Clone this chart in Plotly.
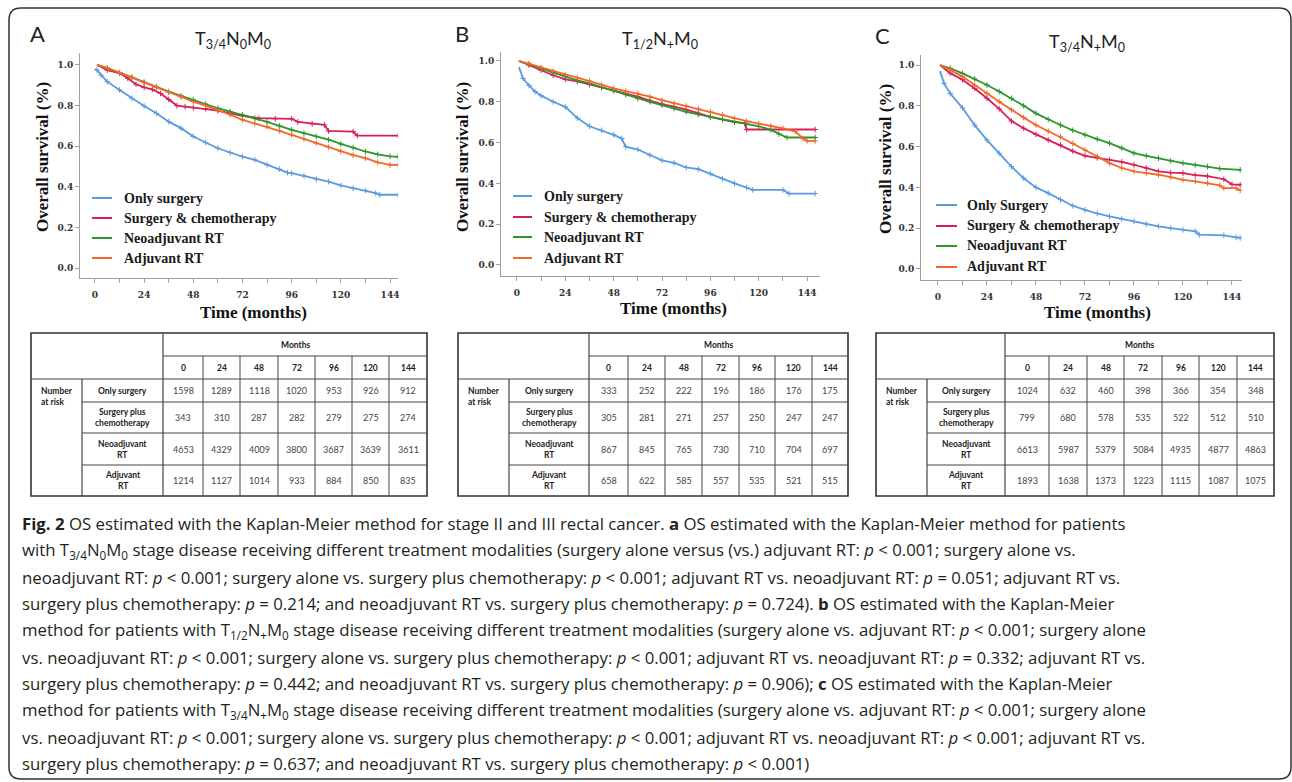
import plotly.graph_objects as go

W, H = 1292, 782

def X(px):
    return px / W

def Y(py):
    return 1 - py / H

# ---------------- data ----------------
series_names = ["Only surgery", "Surgery &amp; chemotherapy", "Neoadjuvant RT", "Adjuvant RT"]
series_names_c = ["Only Surgery", "Surgery &amp; chemotherapy", "Neoadjuvant RT", "Adjuvant RT"]
colors = ["#5a9be0", "#d81f55", "#2b962b", "#f2682a"]

# Panel A  (T3/4 N0 M0)
A_only_t = [0, 1, 3, 6, 12, 18, 24, 30, 36, 42, 48, 54, 60, 66, 72, 78, 84, 90, 94, 96, 102, 108, 114, 120, 126, 132, 137, 139, 148]
A_only_s = [0.98, 0.975, 0.95, 0.918, 0.877, 0.836, 0.798, 0.762, 0.721, 0.689, 0.648, 0.618, 0.59, 0.569, 0.549, 0.533, 0.508, 0.487, 0.47, 0.467, 0.454, 0.438, 0.426, 0.407, 0.393, 0.382, 0.369, 0.361, 0.361]
A_chemo_t = [1, 6, 12, 16, 20, 24, 28, 32, 36, 40, 44, 48, 54, 60, 66, 72, 80, 88, 96, 99, 106, 112, 114, 126, 128, 148]
A_chemo_s = [1.0, 0.975, 0.96, 0.935, 0.905, 0.89, 0.88, 0.86, 0.83, 0.80, 0.795, 0.79, 0.785, 0.775, 0.762, 0.75, 0.738, 0.735, 0.735, 0.72, 0.71, 0.705, 0.675, 0.672, 0.652, 0.652]
A_neo_t = [1, 6, 12, 18, 24, 30, 36, 42, 48, 54, 60, 66, 72, 78, 84, 90, 96, 102, 108, 114, 120, 126, 132, 138, 144, 148]
A_neo_s = [1.0, 0.985, 0.962, 0.94, 0.915, 0.892, 0.869, 0.848, 0.828, 0.808, 0.787, 0.77, 0.754, 0.737, 0.72, 0.70, 0.68, 0.664, 0.648, 0.632, 0.611, 0.593, 0.574, 0.56, 0.55, 0.548]
A_adj_t = [1, 6, 12, 18, 24, 30, 36, 42, 48, 54, 60, 66, 72, 78, 84, 90, 96, 102, 108, 114, 120, 126, 132, 138, 144, 148]
A_adj_s = [1.0, 0.985, 0.962, 0.938, 0.913, 0.89, 0.866, 0.843, 0.82, 0.80, 0.779, 0.755, 0.73, 0.712, 0.697, 0.676, 0.656, 0.636, 0.615, 0.595, 0.574, 0.556, 0.541, 0.52, 0.508, 0.508]

# Panel B  (T1/2 N+ M0)
B_only_t = [1, 3, 6, 9, 12, 18, 24, 30, 36, 42, 48, 52, 54, 60, 66, 72, 78, 84, 90, 96, 102, 108, 114, 117, 132, 135, 148]
B_only_s = [0.97, 0.915, 0.88, 0.85, 0.83, 0.80, 0.775, 0.72, 0.68, 0.66, 0.638, 0.62, 0.58, 0.566, 0.538, 0.513, 0.50, 0.478, 0.47, 0.448, 0.423, 0.40, 0.38, 0.368, 0.368, 0.35, 0.35]
B_chemo_t = [1, 6, 12, 18, 24, 30, 36, 42, 48, 54, 60, 66, 72, 78, 84, 90, 96, 102, 108, 113, 114, 148]
B_chemo_s = [1.0, 0.98, 0.955, 0.93, 0.91, 0.90, 0.885, 0.87, 0.857, 0.84, 0.825, 0.806, 0.789, 0.776, 0.762, 0.744, 0.726, 0.713, 0.70, 0.695, 0.664, 0.664]
B_neo_t = [1, 6, 12, 18, 24, 30, 36, 42, 48, 54, 60, 66, 72, 78, 84, 90, 96, 102, 108, 114, 120, 126, 130, 134, 148]
B_neo_s = [1.0, 0.985, 0.964, 0.943, 0.923, 0.905, 0.89, 0.872, 0.854, 0.835, 0.816, 0.80, 0.784, 0.767, 0.751, 0.738, 0.726, 0.714, 0.702, 0.692, 0.68, 0.662, 0.642, 0.625, 0.625]
B_adj_t = [1, 6, 12, 18, 24, 30, 36, 42, 48, 54, 60, 66, 72, 78, 84, 90, 96, 102, 108, 114, 120, 126, 132, 138, 142, 144, 148]
B_adj_s = [1.0, 0.985, 0.967, 0.95, 0.934, 0.918, 0.902, 0.884, 0.866, 0.852, 0.841, 0.825, 0.808, 0.793, 0.779, 0.765, 0.751, 0.735, 0.718, 0.705, 0.693, 0.682, 0.67, 0.655, 0.62, 0.608, 0.608]

# Panel C  (T3/4 N+ M0)
C_only_t = [1, 3, 6, 12, 18, 24, 30, 36, 42, 48, 54, 60, 66, 72, 78, 84, 90, 96, 102, 108, 114, 120, 126, 128, 140, 146, 148]
C_only_s = [0.97, 0.91, 0.86, 0.79, 0.705, 0.632, 0.567, 0.502, 0.445, 0.40, 0.372, 0.34, 0.31, 0.29, 0.272, 0.258, 0.245, 0.233, 0.22, 0.209, 0.2, 0.192, 0.185, 0.168, 0.165, 0.155, 0.152]
C_chemo_t = [1, 6, 12, 18, 24, 30, 36, 42, 48, 54, 60, 66, 72, 78, 84, 90, 96, 102, 108, 114, 120, 126, 132, 140, 144, 148]
C_chemo_s = [1.0, 0.96, 0.928, 0.885, 0.837, 0.785, 0.725, 0.69, 0.66, 0.632, 0.608, 0.578, 0.555, 0.545, 0.535, 0.525, 0.511, 0.495, 0.478, 0.472, 0.47, 0.46, 0.455, 0.44, 0.415, 0.413]
C_neo_t = [1, 6, 12, 18, 24, 30, 36, 42, 48, 54, 60, 66, 72, 78, 84, 90, 96, 102, 108, 114, 120, 126, 132, 138, 148]
C_neo_s = [1.0, 0.984, 0.959, 0.932, 0.902, 0.87, 0.837, 0.80, 0.763, 0.733, 0.706, 0.68, 0.657, 0.637, 0.617, 0.593, 0.568, 0.555, 0.543, 0.53, 0.519, 0.51, 0.502, 0.492, 0.486]
C_adj_t = [1, 6, 12, 18, 24, 30, 36, 42, 48, 54, 60, 66, 72, 78, 84, 90, 96, 102, 108, 114, 120, 126, 132, 138, 140, 146, 148]
C_adj_s = [1.0, 0.976, 0.943, 0.90, 0.861, 0.82, 0.78, 0.742, 0.706, 0.676, 0.648, 0.615, 0.583, 0.551, 0.519, 0.495, 0.478, 0.47, 0.462, 0.45, 0.437, 0.43, 0.421, 0.41, 0.396, 0.396, 0.385]

# tick values
x_tick_vals = [0, 24, 48, 72, 96, 120, 144]
x_tick_text = ["0", "24", "48", "72", "96", "120", "144"]
x_minor_vals = [12, 36, 60, 84, 108, 132]
y_tick_vals = [0.0, 0.2, 0.4, 0.6, 0.8, 1.0]
y_tick_text = ["0.0", "0.2", "0.4", "0.6", "0.8", "1.0"]

# number-at-risk tables
months = ["0", "24", "48", "72", "96", "120", "144"]
row_labels = ["Only surgery", "Surgery plus<br>chemotherapy", "Neoadjuvant<br>RT", "Adjuvant<br>RT"]
risk_A = [[1598, 1289, 1118, 1020, 953, 926, 912],
          [343, 310, 287, 282, 279, 275, 274],
          [4653, 4329, 4009, 3800, 3687, 3639, 3611],
          [1214, 1127, 1014, 933, 884, 850, 835]]
risk_B = [[333, 252, 222, 196, 186, 176, 175],
          [305, 281, 271, 257, 250, 247, 247],
          [867, 845, 765, 730, 710, 704, 697],
          [658, 622, 585, 557, 535, 521, 515]]
risk_C = [[1024, 632, 460, 398, 366, 354, 348],
          [799, 680, 578, 535, 522, 512, 510],
          [6613, 5987, 5379, 5084, 4935, 4877, 4863],
          [1893, 1638, 1373, 1223, 1115, 1087, 1075]]

panel_titles = ["T<sub>3/4</sub>N<sub>0</sub>M<sub>0</sub>",
                "T<sub>1/2</sub>N<sub>+</sub>M<sub>0</sub>",
                "T<sub>3/4</sub>N<sub>+</sub>M<sub>0</sub>"]
panel_letters = ["A", "B", "C"]

caption_lines = [
    "<b>Fig. 2</b> OS estimated with the Kaplan-Meier method for stage II and III rectal cancer. <b>a</b> OS estimated with the Kaplan-Meier method for patients",
    "with T<sub>3/4</sub>N<sub>0</sub>M<sub>0</sub> stage disease receiving different treatment modalities (surgery alone versus (vs.) adjuvant RT: <i>p</i> &lt; 0.001; surgery alone vs.",
    "neoadjuvant RT: <i>p</i> &lt; 0.001; surgery alone vs. surgery plus chemotherapy: <i>p</i> &lt; 0.001; adjuvant RT vs. neoadjuvant RT: <i>p</i> = 0.051; adjuvant RT vs.",
    "surgery plus chemotherapy: <i>p</i> = 0.214; and neoadjuvant RT vs. surgery plus chemotherapy: <i>p</i> = 0.724). <b>b</b> OS estimated with the Kaplan-Meier",
    "method for patients with T<sub>1/2</sub>N<sub>+</sub>M<sub>0</sub> stage disease receiving different treatment modalities (surgery alone vs. adjuvant RT: <i>p</i> &lt; 0.001; surgery alone",
    "vs. neoadjuvant RT: <i>p</i> &lt; 0.001; surgery alone vs. surgery plus chemotherapy: <i>p</i> &lt; 0.001; adjuvant RT vs. neoadjuvant RT: <i>p</i> = 0.332; adjuvant RT vs.",
    "surgery plus chemotherapy: <i>p</i> = 0.442; and neoadjuvant RT vs. surgery plus chemotherapy: <i>p</i> = 0.906); <b>c</b> OS estimated with the Kaplan-Meier",
    "method for patients with T<sub>3/4</sub>N<sub>+</sub>M<sub>0</sub> stage disease receiving different treatment modalities (surgery alone vs. adjuvant RT: <i>p</i> &lt; 0.001; surgery alone",
    "vs. neoadjuvant RT: <i>p</i> &lt; 0.001; surgery alone vs. surgery plus chemotherapy: <i>p</i> &lt; 0.001; adjuvant RT vs. neoadjuvant RT: <i>p</i> &lt; 0.001; adjuvant RT vs.",
    "surgery plus chemotherapy: <i>p</i> = 0.637; and neoadjuvant RT vs. surgery plus chemotherapy: <i>p</i> &lt; 0.001)",
]

panels = [
    [(A_only_t, A_only_s), (A_chemo_t, A_chemo_s), (A_neo_t, A_neo_s), (A_adj_t, A_adj_s)],
    [(B_only_t, B_only_s), (B_chemo_t, B_chemo_s), (B_neo_t, B_neo_s), (B_adj_t, B_adj_s)],
    [(C_only_t, C_only_s), (C_chemo_t, C_chemo_s), (C_neo_t, C_neo_s), (C_adj_t, C_adj_s)],
]

# ---------------- layout geometry (pixels) ----------------
geo = [
    dict(x0=80, x1=398, y0=53, y1=278, xr=[-7.3, 147.9], yr=[-0.049, 1.059],
         title=(233, 40), letter=(37, 33), ytitle=(42, 157), xtitle=(253, 312),
         leg=(92, 112, 122, [198, 218, 238, 258])),
    dict(x0=501, x1=820, y0=52, y1=276, xr=[-7.9, 150.4], yr=[-0.054, 1.044],
         title=(660, 39), letter=(462, 33), ytitle=(462, 157), xtitle=(673, 308),
         leg=(513, 532, 542, [196, 217, 237, 258])),
    dict(x0=921, x1=1242, y0=55, y1=280, xr=[-8.3, 148.9], yr=[-0.054, 1.049],
         title=(1087, 42), letter=(882, 35), ytitle=(885, 159), xtitle=(1097, 313),
         leg=(936, 957, 965, [205, 226, 246, 267])),
]

fig = go.Figure()
annotations = []
shapes = []

serif = "Liberation Serif"
sans = "Lato"


def note(px, py, text, font, xanchor="center", yanchor="middle", **kw):
    annotations.append(dict(x=X(px), y=Y(py), xref="paper", yref="paper", text=text,
                            showarrow=False, xanchor=xanchor, yanchor=yanchor, font=font, **kw))


for p in range(3):
    g = geo[p]
    xa = "x" if p == 0 else f"x{p+1}"
    ya = "y" if p == 0 else f"y{p+1}"
    names = series_names_c if p == 2 else series_names
    for k, (t, s) in enumerate(panels[p]):
        fig.add_trace(go.Scatter(x=t, y=s, mode="lines", xaxis=xa, yaxis=ya,
                                 line=dict(color=colors[k], width=1.8),
                                 showlegend=False, hoverinfo="skip"))
        fig.add_trace(go.Scatter(x=t[1:], y=s[1:], mode="markers", xaxis=xa, yaxis=ya,
                                 marker=dict(symbol="cross-thin", size=4,
                                             line=dict(color=colors[k], width=1)),
                                 showlegend=False, hoverinfo="skip"))
    axis_common = dict(showline=True, linecolor="#a0a0a0", linewidth=1, ticks="outside",
                       ticklen=4, tickcolor="#a0a0a0", showgrid=False, zeroline=False,
                       tickfont=dict(family="DejaVu Serif", size=9, color="#333", weight="bold"))
    xkey = "xaxis" if p == 0 else f"xaxis{p+1}"
    ykey = "yaxis" if p == 0 else f"yaxis{p+1}"
    fig.update_layout(**{
        xkey: dict(domain=[X(g["x0"]), X(g["x1"])], range=g["xr"], anchor=ya,
                   tickvals=x_tick_vals, ticktext=x_tick_text, ticklabelstandoff=4,
                   minor=dict(tickvals=x_minor_vals, ticks="outside", ticklen=4,
                              tickcolor="#a0a0a0", showgrid=False),
                   **axis_common),
        ykey: dict(domain=[Y(g["y1"]), Y(g["y0"])], range=g["yr"], anchor=xa,
                   tickvals=y_tick_vals, ticktext=y_tick_text, **axis_common),
    })
    note(*g["title"], panel_titles[p], dict(family=sans, size=18, color="#222"))
    note(*g["letter"], panel_letters[p], dict(family=sans, size=22, color="#222"))
    note(*g["ytitle"], "<b>Overall survival (%)</b>", dict(family=serif, size=17, color="#111"),
         textangle=-90)
    note(*g["xtitle"], "<b>Time (months)</b>", dict(family=serif, size=17, color="#111"))
    lx0, lx1, tx, rows = g["leg"]
    for k in range(4):
        shapes.append(dict(type="line", xref="paper", yref="paper",
                           x0=X(lx0), x1=X(lx1), y0=Y(rows[k]), y1=Y(rows[k]),
                           line=dict(color=colors[k], width=2)))
        note(tx, rows[k], "<b>" + names[k] + "</b>",
             dict(family=serif, size=14, color="#1a1a1a"), xanchor="left")

# ---------------- tables ----------------
table_rows = [333, 356, 379, 402, 433, 465, 496]
tables = [
    dict(left=31, c1=82, cols=[163, 203, 240, 278, 315, 352, 389, 427], data=risk_A),
    dict(left=458, c1=509, cols=[589, 628, 665, 702, 739, 775, 812, 848], data=risk_B),
    dict(left=876, c1=927, cols=[1005, 1049, 1087, 1124, 1162, 1199, 1237, 1274], data=risk_C),
]
lc = "#444"
for tb in tables:
    L, c1, cols = tb["left"], tb["c1"], tb["cols"]
    R = cols[-1]
    top, r1, r2 = table_rows[0], table_rows[1], table_rows[2]
    bot = table_rows[-1]
    shapes.append(dict(type="rect", xref="paper", yref="paper", x0=X(L), x1=X(R), y0=Y(bot), y1=Y(top),
                       line=dict(color="#333", width=1.6)))

    def hline(xa_, xb_, yy, w=1):
        shapes.append(dict(type="line", xref="paper", yref="paper", x0=X(xa_), x1=X(xb_),
                           y0=Y(yy), y1=Y(yy), line=dict(color=lc, width=w)))

    def vline(xx, ya_, yb_, w=1):
        shapes.append(dict(type="line", xref="paper", yref="paper", x0=X(xx), x1=X(xx),
                           y0=Y(ya_), y1=Y(yb_), line=dict(color=lc, width=w)))

    vline(cols[0], top, bot, 1.2)
    vline(c1, r2, bot, 1.2)
    for cx in cols[1:-1]:
        vline(cx, r1, bot)
    hline(cols[0], R, r1)
    hline(L, R, r2, 1.2)
    for ry in table_rows[3:-1]:
        hline(c1, R, ry)
    tf = dict(family=sans, size=8.5, color="#222", weight="bold")
    note((cols[0] + R) / 2, (top + r1) / 2, "Months", tf)
    for j in range(7):
        cx = (cols[j] + cols[j + 1]) / 2
        note(cx, (r1 + r2) / 2, months[j], tf)
        for i in range(4):
            cy = (table_rows[2 + i] + table_rows[3 + i]) / 2
            note(cx, cy, str(tb["data"][i][j]), dict(family=sans, size=9, color="#444"))
    for i in range(4):
        cy = (table_rows[2 + i] + table_rows[3 + i]) / 2
        note((c1 + cols[0]) / 2, cy, row_labels[i], tf)
    note(L + 8, 384, "Number<br>at risk", tf, xanchor="left", yanchor="top", align="left")

# ---------------- caption ----------------
cap_y = [523, 550, 577, 603, 630, 657, 683, 710, 737, 763]
for i, line in enumerate(caption_lines):
    note(20, cap_y[i], line, dict(family="Open Sans", size=16.8, color="#231f20"),
         xanchor="left", align="left")

# ---------------- rounded border ----------------
bl, bt, br, bb, r = 9, 8, 1291, 779, 12
path = (f"M {X(bl + r)} {Y(bt)} L {X(br - r)} {Y(bt)} Q {X(br)} {Y(bt)} {X(br)} {Y(bt + r)} "
        f"L {X(br)} {Y(bb - r)} Q {X(br)} {Y(bb)} {X(br - r)} {Y(bb)} "
        f"L {X(bl + r)} {Y(bb)} Q {X(bl)} {Y(bb)} {X(bl)} {Y(bb - r)} "
        f"L {X(bl)} {Y(bt + r)} Q {X(bl)} {Y(bt)} {X(bl + r)} {Y(bt)} Z")
shapes.append(dict(type="path", xref="paper", yref="paper", path=path,
                   line=dict(color="#333", width=1.5)))

fig.update_layout(width=W, height=H, margin=dict(l=0, r=0, t=0, b=0),
                  paper_bgcolor="white", plot_bgcolor="white", showlegend=False,
                  annotations=annotations, shapes=shapes)

fig.write_html("out.html", config={"displayModeBar": False},
               post_script="document.body.style.margin='0';document.body.style.overflow='hidden';")
